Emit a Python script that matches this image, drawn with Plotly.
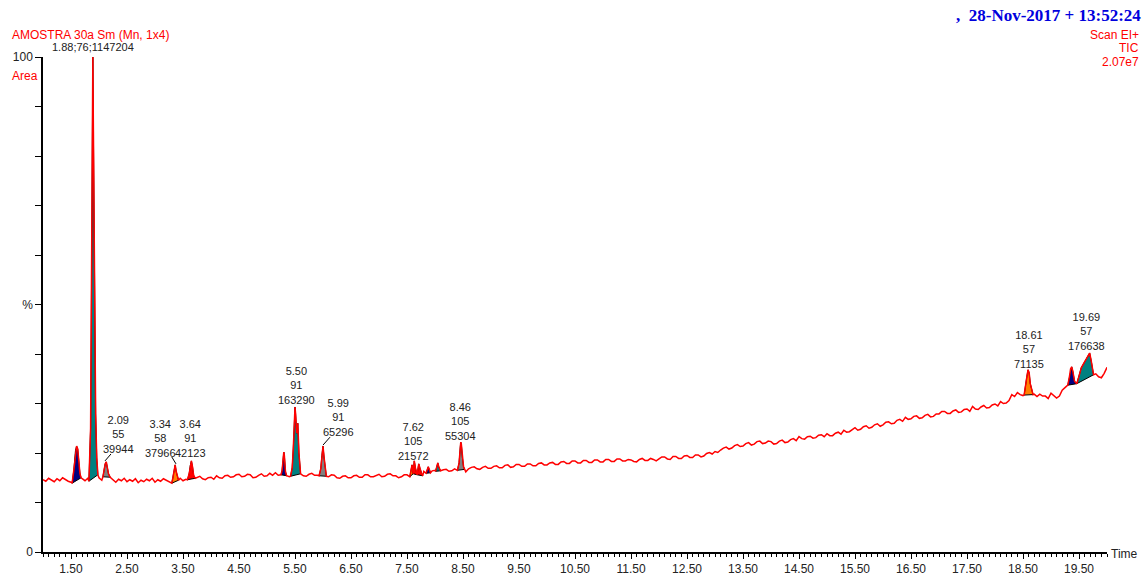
import plotly.graph_objects as go

# ---------------- data ----------------
# baseline (TIC, % of full scale) sampled every 0.05 min from 1.00 to 20.00
base_start = 1.0
base_step = 0.05
baseline_values = [
    14.6, 14.3, 14.9, 14.5, 14.2, 14.8, 14.4, 15.0, 14.6, 14.3, 14.1, 14.5, 14.7, 14.3, 14.8, 14.4, 14.9, 14.5, 14.2, 14.6,  # 1
    15.0, 14.5, 14.9, 14.3, 14.8, 14.6, 14.1, 14.7, 14.4, 14.9, 14.2, 14.6, 14.3, 14.8, 14.0, 14.5, 14.2, 14.7, 14.4, 14.9,  # 2
    14.1, 14.6, 14.3, 14.8, 14.5, 14.2, 13.9, 14.4, 14.6, 14.9, 14.4, 14.7, 14.5, 14.9, 14.6, 15.1, 15.3, 14.8, 14.6, 15.0,  # 3
    15.1, 14.7, 15.4, 15.0, 14.9, 15.4, 15.5, 15.1, 15.2, 15.6, 15.7, 15.2, 15.3, 15.7, 15.6, 15.0, 15.1, 15.5, 15.8, 15.3,  # 4
    15.4, 15.9, 15.5, 16.0, 15.5, 15.2, 15.6, 15.9, 15.2, 15.5, 15.7, 16.0, 15.8, 15.4, 15.3, 15.7, 15.9, 15.5, 15.5, 15.8,  # 5
    15.6, 15.1, 15.2, 15.6, 15.5, 15.0, 14.9, 15.3, 15.4, 15.0, 15.0, 15.4, 15.5, 15.1, 15.1, 15.6, 15.6, 15.2, 15.2, 15.5,  # 6
    15.7, 15.2, 15.3, 15.7, 15.8, 15.4, 15.4, 15.0, 15.2, 15.6, 15.6, 15.1, 15.4, 15.8, 15.9, 15.6, 16.3, 15.9, 16.0, 16.4,  # 7
    16.5, 16.1, 16.2, 16.6, 16.7, 16.3, 16.4, 16.8, 16.9, 16.5, 16.6, 16.2, 16.8, 17.1, 17.2, 16.8, 16.7, 17.1, 17.3, 16.9,  # 8
    16.9, 17.3, 17.4, 17.0, 17.0, 17.5, 17.6, 17.1, 17.2, 17.7, 17.7, 17.3, 17.3, 17.8, 17.8, 17.4, 17.4, 17.9, 18.0, 17.6,  # 9
    17.6, 18.0, 18.1, 17.7, 17.7, 18.2, 18.3, 17.9, 17.9, 18.4, 18.4, 18.0, 18.0, 18.5, 18.5, 18.1, 18.1, 18.6, 18.6, 18.2,  # 10
    18.2, 18.7, 18.7, 18.3, 18.3, 18.8, 18.8, 18.4, 18.4, 18.7, 18.6, 18.3, 18.2, 18.7, 18.9, 18.5, 18.5, 18.9, 18.7, 18.4,  # 11
    18.8, 19.2, 19.2, 18.8, 18.7, 19.3, 19.3, 18.9, 18.9, 19.4, 19.5, 19.1, 19.1, 19.6, 19.6, 19.2, 19.4, 19.9, 20.1, 19.8,  # 12
    20.3, 20.1, 20.6, 21.0, 21.2, 20.8, 21.0, 21.5, 21.7, 21.3, 21.4, 21.9, 22.1, 21.6, 21.8, 22.3, 22.4, 21.9, 22.0, 22.4,  # 13
    22.3, 21.8, 21.9, 22.4, 22.6, 22.1, 22.2, 22.7, 22.9, 22.5, 23.3, 22.9, 22.8, 23.3, 23.4, 23.0, 23.1, 23.6, 23.7, 23.3,  # 14
    23.9, 23.5, 23.5, 24.0, 24.2, 23.8, 24.6, 24.2, 24.3, 24.8, 25.1, 24.6, 24.8, 25.3, 25.5, 25.0, 25.2, 25.7, 25.9, 25.4,  # 15
    25.7, 26.2, 26.3, 25.9, 26.0, 26.6, 26.8, 26.4, 27.2, 26.8, 26.9, 27.4, 27.5, 27.0, 27.1, 27.6, 27.8, 27.3, 27.4, 27.9,  # 16
    27.9, 28.4, 28.4, 28.0, 28.0, 28.5, 28.7, 28.2, 28.3, 28.8, 28.9, 28.4, 29.4, 28.9, 28.8, 29.3, 29.6, 29.1, 29.2, 29.7,  # 17
    29.9, 29.5, 30.4, 30.0, 30.1, 30.6, 31.8, 31.4, 32.2, 31.8, 31.6, 32.1, 32.3, 31.8, 31.9, 31.4, 31.9, 31.5, 31.5, 31.0,  # 18
    32.1, 31.6, 31.1, 31.5, 32.7, 33.2, 33.7, 34.0, 34.5, 34.2, 35.0, 35.3, 35.6, 35.9, 36.2, 35.8, 36.0, 35.4, 35.2, 36.1,  # 19
    37.3,                                                                                                                    # 20
]

# integrated peaks: retention times, intensities (%), fill colour
peak_1_t = [1.52, 1.55, 1.58, 1.60, 1.62, 1.64, 1.66, 1.68]
peak_1_v = [13.9, 16.5, 20.5, 21.4, 20.8, 18.0, 15.8, 15.0]
peak_2_t = [1.82, 1.85, 1.87, 1.88, 1.89, 1.90, 1.92, 1.94, 1.96, 1.98]
peak_2_v = [14.3, 25.0, 60.0, 92.0, 100.0, 85.0, 50.0, 28.0, 19.0, 15.6]
peak_3_t = [2.07, 2.09, 2.11, 2.13, 2.15, 2.17, 2.20]
peak_3_v = [15.2, 16.5, 17.8, 18.2, 17.0, 15.8, 15.1]
peak_4_t = [3.30, 3.32, 3.34, 3.36, 3.38, 3.40, 3.42]
peak_4_v = [13.9, 15.0, 16.8, 17.6, 16.2, 15.0, 14.5]
peak_5_t = [3.58, 3.61, 3.63, 3.65, 3.67, 3.69, 3.72]
peak_5_v = [14.6, 15.8, 17.5, 18.4, 17.2, 15.5, 14.9]
peak_6_t = [5.25, 5.27, 5.29, 5.30, 5.31, 5.33, 5.35]
peak_6_v = [15.6, 16.5, 19.0, 20.2, 19.5, 16.2, 15.4]
peak_7_t = [5.42, 5.45, 5.47, 5.49, 5.50, 5.51, 5.53, 5.55, 5.57, 5.60]
peak_7_v = [15.3, 17.0, 21.0, 27.5, 29.3, 28.0, 24.0, 26.0, 20.0, 15.8]
peak_8_t = [5.93, 5.96, 5.98, 6.00, 6.02, 6.04, 6.06]
peak_8_v = [15.4, 16.8, 19.5, 21.4, 19.0, 16.5, 15.3]
peak_9_t = [7.55, 7.57, 7.59, 7.61]
peak_9_v = [15.2, 16.5, 17.6, 15.8]
peak_10_t = [7.61, 7.63, 7.65, 7.68]
peak_10_v = [15.8, 18.4, 17.0, 15.6]
peak_11_t = [7.68, 7.71, 7.73, 7.76, 7.78]
peak_11_v = [15.6, 17.8, 16.9, 15.8, 15.4]
peak_12_t = [7.84, 7.86, 7.88, 7.90, 7.92]
peak_12_v = [15.9, 16.8, 17.2, 16.6, 16.0]
peak_13_t = [8.01, 8.03, 8.05, 8.07, 8.10]
peak_13_v = [16.3, 17.4, 18.0, 17.1, 16.4]
peak_14_t = [8.40, 8.43, 8.45, 8.46, 8.47, 8.49, 8.51, 8.53]
peak_14_v = [16.5, 18.0, 21.0, 22.2, 21.8, 19.0, 17.2, 16.7]
peak_15_t = [18.52, 18.55, 18.57, 18.59, 18.61, 18.63, 18.66, 18.68]
peak_15_v = [31.7, 33.5, 35.5, 36.8, 36.2, 34.0, 32.5, 31.8]
peak_16_t = [19.30, 19.33, 19.35, 19.37, 19.39, 19.42, 19.46]
peak_16_v = [33.7, 35.5, 37.0, 37.4, 36.5, 34.5, 34.0]
peak_17_t = [19.46, 19.50, 19.54, 19.58, 19.62, 19.66, 19.69, 19.72, 19.76]
peak_17_v = [34.0, 35.5, 37.2, 38.0, 38.8, 39.8, 40.2, 38.5, 35.8]

NAVY, TEAL, GRAY, ORANGE, RED = "#000080", "#008080", "#808080", "#FF8000", "#FF0000"
peaks = [
    (peak_1_t, peak_1_v, NAVY), (peak_2_t, peak_2_v, TEAL), (peak_3_t, peak_3_v, GRAY),
    (peak_4_t, peak_4_v, ORANGE), (peak_5_t, peak_5_v, RED), (peak_6_t, peak_6_v, NAVY),
    (peak_7_t, peak_7_v, TEAL), (peak_8_t, peak_8_v, GRAY), (peak_9_t, peak_9_v, ORANGE),
    (peak_10_t, peak_10_v, RED), (peak_11_t, peak_11_v, RED), (peak_12_t, peak_12_v, NAVY),
    (peak_13_t, peak_13_v, TEAL), (peak_14_t, peak_14_v, GRAY), (peak_15_t, peak_15_v, ORANGE),
    (peak_16_t, peak_16_v, NAVY), (peak_17_t, peak_17_v, TEAL),
]

# peak labels: (time, intensity, text)
label_t = [2.34, 3.09, 3.64, 5.52, 6.27, 7.61, 8.46, 18.61, 19.64]
label_v = [23.8, 23.0, 23.0, 33.7, 27.1, 22.4, 26.3, 41.0, 44.6]
label_text = ["2.09<br>55<br>39944", "3.34<br>58<br>37966", "3.64<br>91<br>42123",
              "5.50<br>91<br>163290", "5.99<br>91<br>65296", "7.62<br>105<br>21572",
              "8.46<br>105<br>55304", "18.61<br>57<br>71135", "19.69<br>57<br>176638"]
top_label = "1.88;76;1147204"
top_label_t = 1.90

# ---------------- build trace ----------------
base_t = [round(base_start + base_step * i, 2) for i in range(len(baseline_values))]
pts = []
for t, v in zip(base_t, baseline_values):
    if any(pt[0] - 0.001 <= t <= pt[-1] + 0.001 for pt, _, _ in peaks):
        continue
    pts.append((t, v))
seen = set()
for pt, pv, _ in peaks:
    for t, v in zip(pt, pv):
        if t not in seen:
            pts.append((t, v))
            seen.add(t)
pts.sort()
trace_t = [p[0] for p in pts]
trace_v = [p[1] for p in pts]

fig = go.Figure()
for pt, pv, col in peaks:
    fig.add_trace(go.Scatter(x=list(pt) + [pt[0]], y=list(pv) + [pv[0]], mode="lines",
                             fill="toself", fillcolor=col,
                             line=dict(color="black", width=1), hoverinfo="skip"))
fig.add_trace(go.Scatter(x=trace_t, y=trace_v, mode="lines",
                         line=dict(color="#FF0000", width=1.5)))

FONT = "Liberation Sans, Arial, sans-serif"


def px(xp):
    return (xp - 43) / 1064.0


def py(yp):
    return (552 - yp) / 495.0


ann = []
for t, v, txt in zip(label_t, label_v, label_text):
    ann.append(dict(x=t, y=v, xref="x", yref="y", text=txt, showarrow=False,
                    font=dict(family=FONT, size=11, color="#222222"),
                    xanchor="center", yanchor="middle"))
ann.append(dict(x=top_label_t, y=py(47), xref="x", yref="paper", text=top_label, showarrow=False,
                font=dict(family=FONT, size=11, color="#222222"), xanchor="center", yanchor="middle"))

extra = [
    dict(x=px(11), y=py(35), text="AMOSTRA 30a Sm (Mn, 1x4)", font=dict(family=FONT, size=12, color="#FF0000"),
         xanchor="left"),
    dict(x=px(11), y=py(76), text="Area", font=dict(family=FONT, size=12, color="#FF0000"), xanchor="left"),
    dict(x=px(1142), y=py(16), text="<b>,  28-Nov-2017 + 13:52:24</b>",
         font=dict(family="Liberation Serif, Times New Roman, serif", size=17, color="#0000DD"),
         xanchor="right"),
    dict(x=px(1140), y=py(35), text="Scan EI+", font=dict(family=FONT, size=12, color="#FF0000"), xanchor="right"),
    dict(x=px(1140), y=py(48), text="TIC", font=dict(family=FONT, size=12, color="#FF0000"), xanchor="right"),
    dict(x=px(1140), y=py(62), text="2.07e7", font=dict(family=FONT, size=12, color="#FF0000"), xanchor="right"),
    dict(x=px(1110), y=py(554), text="Time", font=dict(family=FONT, size=12, color="#222222"), xanchor="left"),
]
for a in extra:
    a.update(xref="paper", yref="paper", showarrow=False, yanchor="middle", borderpad=0)
fig.update_layout(annotations=ann + extra)

# leader lines from labels to their peaks
leaders = [((2.107, 18.4), (2.214, 19.8)), ((3.30, 19.2), (3.375, 17.8)), ((6.125, 23.2), (6.0, 21.6))]
for (x0, y0), (x1, y1) in leaders:
    fig.add_shape(type="line", x0=x0, y0=y0, x1=x1, y1=y1, xref="x", yref="y",
                  line=dict(color="black", width=1))

fig.update_layout(
    width=1148, height=581,
    margin=dict(l=43, r=41, t=57, b=29),
    paper_bgcolor="white", plot_bgcolor="white",
    showlegend=False,
    xaxis=dict(range=[1.0, 20.0], tick0=1.5, dtick=1.0, tickformat=".2f",
               ticks="outside", ticklen=5, tickcolor="black",
               minor=dict(dtick=0.1, ticks="outside", ticklen=3, tickcolor="black"),
               showline=True, linecolor="black", linewidth=1.5,
               showgrid=False, zeroline=False, automargin=False,
               tickfont=dict(family=FONT, size=12, color="#222222")),
    yaxis=dict(range=[0, 100], tickvals=list(range(0, 101, 10)),
               ticktext=["0", "", "", "", "", "%", "", "", "", "", "100"],
               ticks="outside", ticklen=6, tickcolor="black",
               showline=True, linecolor="black", linewidth=1.5,
               showgrid=False, zeroline=False, automargin=False,
               tickfont=dict(family=FONT, size=12, color="#222222")),
)

fig.write_html("out.html", config={"displayModeBar": False},
               post_script="document.body.style.margin='0';document.body.style.overflow='hidden';")
